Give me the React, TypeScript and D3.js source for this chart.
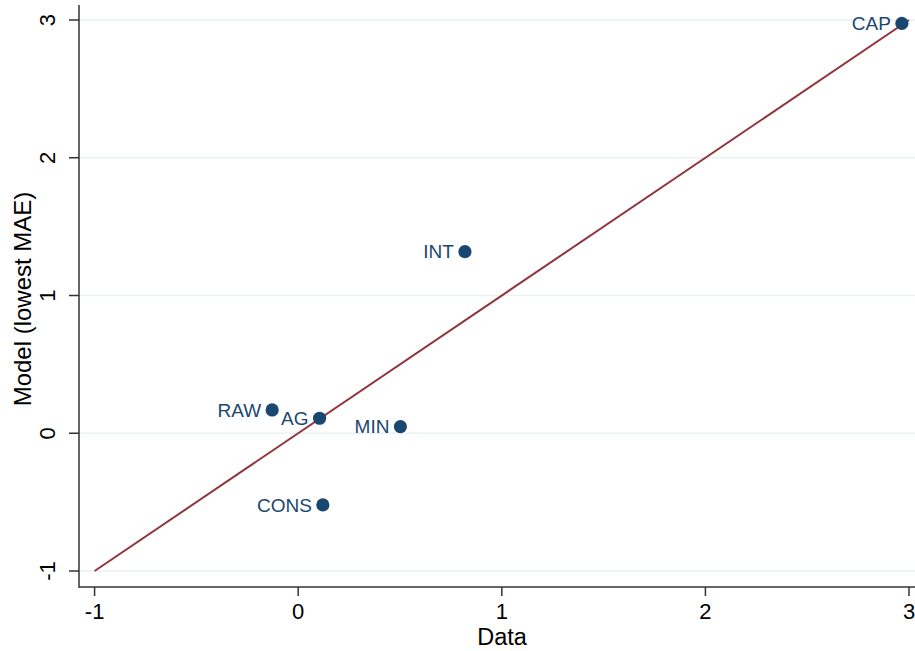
import React from "react";
import * as d3 from "d3";

// Scatter of data vs model values by sector, with 45-degree reference line
const sectors = ["CAP", "INT", "RAW", "AG", "MIN", "CONS"];
const dataValues = [2.965, 0.819, -0.128, 0.105, 0.502, 0.121];
const modelValues = [2.975, 1.318, 0.169, 0.109, 0.048, -0.52];
const xTicks = [-1, 0, 1, 2, 3];
const yTicks = [-1, 0, 1, 2, 3];
const lineRange = [-1, 3];

const W = 915;
const H = 651;
const FONT = "'Liberation Sans', Arial, Helvetica, sans-serif";
const NAVY = "#1a476f";
const MAROON = "#90353b";
const GRID = "#eaf2f3";

const plotLeft = 79;
const plotRight = 915;
const plotTop = 5;
const plotBottom = 587;

export default function App() {
  const x = d3.scaleLinear().domain([-1, 3]).range([94.6, 909]);
  const y = d3.scaleLinear().domain([-1, 3]).range([571, 20]);

  const refLine = d3
    .line<number>()
    .x((d) => x(d))
    .y((d) => y(d))(lineRange);

  const points = sectors.map((s, i) => ({ s, dx: dataValues[i], my: modelValues[i] }));

  return (
    <svg
      width={W}
      height={H}
      style={{ position: "absolute", left: 0, top: 0, background: "#fff" }}
      fontFamily={FONT}
    >
      <rect x={0} y={0} width={W} height={H} fill="#fff" />
      {/* horizontal grid */}
      {yTicks.map((t) => (
        <line key={"g" + t} x1={plotLeft} x2={plotRight} y1={y(t)} y2={y(t)} stroke={GRID} strokeWidth={1.5} />
      ))}

      {/* reference line y = x */}
      <path d={refLine ?? ""} fill="none" stroke={MAROON} strokeWidth={2} />

      {/* points and labels */}
      {points.map((p) => (
        <g key={p.s}>
          <circle cx={x(p.dx)} cy={y(p.my)} r={6.6} fill={NAVY} />
          <text
            x={x(p.dx) - 11}
            y={y(p.my) + 6.8}
            textAnchor="end"
            fontSize={19}
            fill={NAVY}
          >
            {p.s}
          </text>
        </g>
      ))}

      {/* axes */}
      <line x1={plotLeft} x2={plotLeft} y1={plotTop} y2={plotBottom + 0.75} stroke="#333" strokeWidth={1.5} />
      <line x1={plotLeft} x2={plotRight} y1={plotBottom} y2={plotBottom} stroke="#333" strokeWidth={1.5} />

      {xTicks.map((t) => (
        <g key={"x" + t}>
          <line x1={x(t)} x2={x(t)} y1={plotBottom} y2={plotBottom + 9} stroke="#333" strokeWidth={1.5} />
          <text x={x(t)} y={619} textAnchor="middle" fontSize={22} fill="#000">
            {t}
          </text>
        </g>
      ))}

      {yTicks.map((t) => (
        <g key={"y" + t}>
          <line x1={plotLeft - 10} x2={plotLeft} y1={y(t)} y2={y(t)} stroke="#333" strokeWidth={1.5} />
          <text
            transform={`translate(55,${y(t)}) rotate(-90)`}
            textAnchor="middle"
            fontSize={22}
            fill="#000"
          >
            {t}
          </text>
        </g>
      ))}

      <text x={502} y={645} textAnchor="middle" fontSize={23.5} fill="#000">
        Data
      </text>
      <text
        transform={`translate(31,${(plotTop + plotBottom) / 2 + 3}) rotate(-90)`}
        textAnchor="middle"
        fontSize={24}
        fill="#000"
      >
        Model (lowest MAE)
      </text>
    </svg>
  );
}
